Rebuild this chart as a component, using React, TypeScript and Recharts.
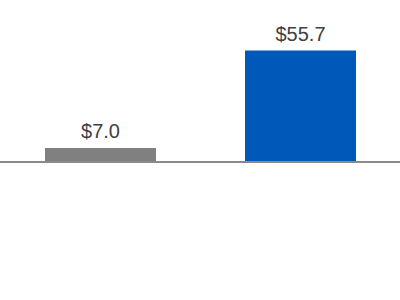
import React from "react";
import { BarChart, Bar, XAxis, YAxis, Cell, LabelList, ReferenceLine } from "recharts";

const categories = ["Prior", "Current"];
const values = [7.0, 55.7];
const barColors = ["#808080", "#0058b8"];

const data = categories.map((name, i) => ({ name, value: values[i] }));

const renderLabel = (props: any) => {
  const { x, y, width, value } = props;
  return (
    <text
      x={x + width / 2}
      y={y - 10}
      textAnchor="middle"
      fill="#404040"
      fontSize={20}
      fontFamily="Liberation Sans, Arial, sans-serif"
    >
      {`$${Number(value).toFixed(1)}`}
    </text>
  );
};

const App = () => {
  return (
    <div style={{ position: "absolute", left: 0, top: 0, width: 400, height: 300, background: "#fff" }}>
      <BarChart
        width={400}
        height={300}
        data={data}
        margin={{ top: 0, right: 0, left: 0, bottom: 0 }}
      >
        <XAxis dataKey="name" hide />
        <YAxis hide domain={[-69, 81]} />
        <Bar dataKey="value" barSize={111} isAnimationActive={false}>
          {data.map((entry, index) => (
            <Cell key={`cell-${index}`} fill={barColors[index]} />
          ))}
          <LabelList dataKey="value" content={renderLabel} />
        </Bar>
        <ReferenceLine y={0} stroke="#8a8a8a" strokeWidth={2} ifOverflow="visible" />
      </BarChart>
    </div>
  );
};

export default App;
